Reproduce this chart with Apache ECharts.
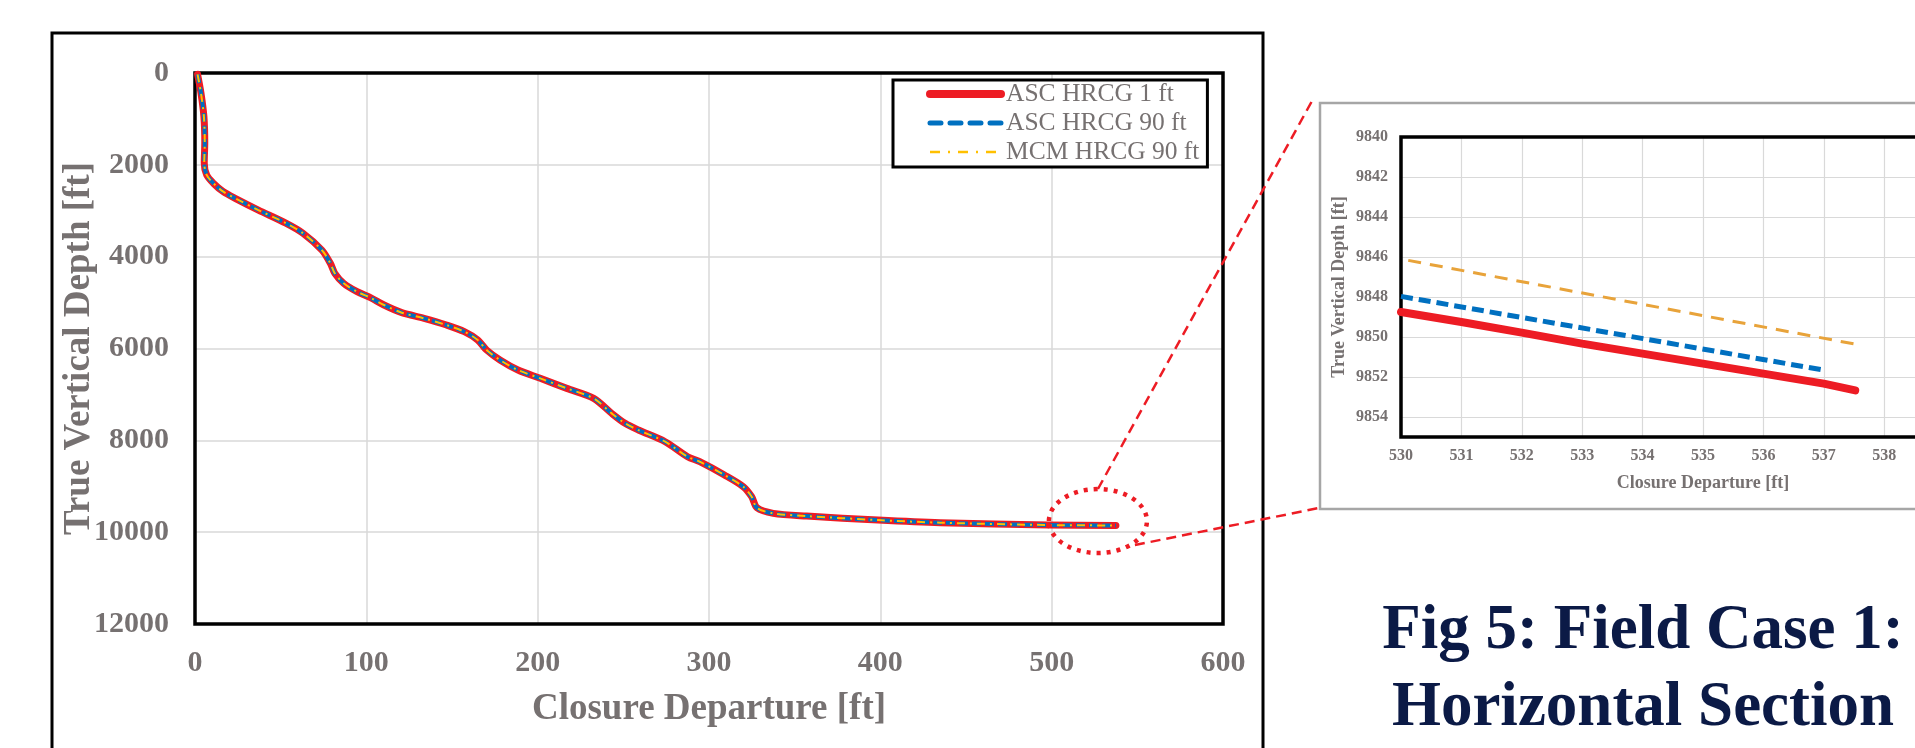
<!DOCTYPE html>
<html>
<head>
<meta charset="utf-8">
<script src="https://cdn.jsdelivr.net/npm/echarts/dist/echarts.min.js"></script>
<style>
html,body{margin:0;padding:0;background:#ffffff;}
#chart{width:1915px;height:748px;}
</style>
</head>
<body>
<div id="chart"></div>
<script>
// ---------------- DATA ----------------
const seriesNames = ['ASC HRCG 1 ft', 'ASC HRCG 90 ft', 'MCM HRCG 90 ft'];

// Main well trajectory (closure departure ft, TVD ft)
const trajDeparture = [1.5, 3.5, 5.2, 5.7, 5.4, 6.8, 10.7, 16.5, 24, 37, 53, 63, 74, 79, 81.6, 86.8, 94.6, 102.4, 110.3, 120.7, 133.7, 146.8, 157.2, 165, 170.2, 178, 188.5, 201.5, 217, 232.7, 243.2, 251, 258.8, 274.4, 287.5, 294.6, 309, 320, 324.9, 328, 337.5, 357, 398.6, 435, 498, 537.5];
const trajTVD = [30, 440, 950, 1520, 1960, 2220, 2400, 2585, 2740, 2985, 3270, 3490, 3855, 4145, 4363, 4581, 4763, 4894, 5053, 5220, 5343, 5489, 5634, 5815, 6033, 6251, 6469, 6650, 6868, 7086, 7413, 7630, 7776, 8030, 8357, 8466, 8755, 9010, 9228, 9470, 9590, 9650, 9736, 9794, 9845, 9853];

// Zoomed section (inset)
const insetRedDep = [530, 531, 532, 533, 534, 535, 536, 537, 537.52];
const insetRedTVD = [9848.75, 9849.25, 9849.78, 9850.33, 9850.83, 9851.33, 9851.83, 9852.33, 9852.67];
const insetBlueDep = [530, 536.95];
const insetBlueTVD = [9847.97, 9851.63];
const insetGoldDep = [530.12, 537.63];
const insetGoldTVD = [9846.17, 9850.42];

// Axis ticks
const mainXTicks = [0, 100, 200, 300, 400, 500, 600];
const mainYTicks = [0, 2000, 4000, 6000, 8000, 10000, 12000];
const insetXTicks = [530, 531, 532, 533, 534, 535, 536, 537, 538, 539, 540];
const insetYTicks = [9840, 9842, 9844, 9846, 9848, 9850, 9852, 9854];
const insetYMax = 9855;

// zoom marker position (data coords of main chart)
const zoomMarker = [527, 9757];

const captionText = 'Fig 5: Field Case 1:\nHorizontal Section';

// ---------------- HELPERS ----------------
const pairs = (xs, ys) => xs.map((x, i) => [x, ys[i]]);
const FONT = '"Liberation Serif", "Times New Roman", serif';
const GRAY = '#767171';
const GRID_COLOR = '#d9d9d9';
const RED = '#ED1C24', BLUE = '#0070C0', GOLD = '#FFC000', ORANGE = '#E8A33A';
const plain = v => String(v);
const noSymbol = {color: 'rgba(0,0,0,0)', borderWidth: 0, opacity: 0};

const chart = echarts.init(document.getElementById('chart'), null, {renderer: 'canvas'});

const option = {
  animation: false,
  backgroundColor: '#ffffff',
  title: {
    text: captionText,
    left: 1638,
    top: 588,
    textAlign: 'center',
    textStyle: {fontFamily: FONT, fontWeight: 'bold', fontSize: 63, color: '#0b1a46', lineHeight: 77}
  },
  legend: {
    orient: 'vertical',
    left: 893,
    top: 80,
    padding: [1, 8, 2, 33],
    itemGap: 3,
    itemWidth: 71,
    itemHeight: 14,
    backgroundColor: '#ffffff',
    borderColor: '#000000',
    borderWidth: 3,
    borderRadius: 0,
    textStyle: {fontFamily: FONT, fontSize: 25.5, color: GRAY},
    data: [
      {name: seriesNames[0], itemStyle: noSymbol, lineStyle: {width: 8, cap: 'round', color: RED}},
      {name: seriesNames[1], itemStyle: noSymbol, lineStyle: {width: 5, cap: 'round', type: [11, 9], color: BLUE}},
      {name: seriesNames[2], itemStyle: noSymbol, lineStyle: {width: 2.5, type: [10, 8, 2, 8], color: GOLD}}
    ],
    z: 10
  },
  grid: [
    {left: 195, top: 73, width: 1028, height: 551, show: false, containLabel: false, outerBoundsMode: 'none'},
    {left: 1401, top: 137, width: 604, height: 300, show: false, containLabel: false, outerBoundsMode: 'none'}
  ],
  xAxis: [
    {
      type: 'value', gridIndex: 0,
      min: mainXTicks[0], max: mainXTicks[mainXTicks.length - 1], interval: mainXTicks[1] - mainXTicks[0],
      name: 'Closure Departure [ft]', nameLocation: 'middle', nameGap: 67, nameMoveOverlap: false,
      nameTextStyle: {fontFamily: FONT, fontWeight: 'bold', fontSize: 37, color: GRAY},
      axisLine: {show: false}, axisTick: {show: false},
      axisLabel: {margin: 24, fontFamily: FONT, fontWeight: 'bold', fontSize: 30, color: GRAY, formatter: plain},
      splitLine: {show: true, lineStyle: {color: GRID_COLOR, width: 1.5}}
    },
    {
      type: 'value', gridIndex: 1,
      min: insetXTicks[0], max: insetXTicks[insetXTicks.length - 1], interval: 1,
      name: 'Closure Departure [ft]', nameLocation: 'middle', nameGap: 37, nameMoveOverlap: false,
      nameTextStyle: {fontFamily: FONT, fontWeight: 'bold', fontSize: 18, color: GRAY},
      axisLine: {show: false}, axisTick: {show: false},
      axisLabel: {margin: 11, fontFamily: FONT, fontWeight: 'bold', fontSize: 16, color: GRAY, formatter: plain},
      splitLine: {show: true, lineStyle: {color: GRID_COLOR, width: 1.2}}
    }
  ],
  yAxis: [
    {
      type: 'value', gridIndex: 0, inverse: true,
      min: mainYTicks[0], max: mainYTicks[mainYTicks.length - 1], interval: mainYTicks[1] - mainYTicks[0],
      name: 'True Vertical Depth [ft]', nameLocation: 'middle', nameGap: 97, nameMoveOverlap: false,
      nameTextStyle: {fontFamily: FONT, fontWeight: 'bold', fontSize: 37, color: GRAY},
      axisLine: {show: false}, axisTick: {show: false},
      axisLabel: {margin: 26, fontFamily: FONT, fontWeight: 'bold', fontSize: 30, color: GRAY, formatter: plain},
      splitLine: {show: true, lineStyle: {color: GRID_COLOR, width: 1.5}}
    },
    {
      type: 'value', gridIndex: 1, inverse: true,
      min: insetYTicks[0], max: insetYMax, interval: 2,
      name: 'True Vertical Depth [ft]', nameLocation: 'middle', nameGap: 53, nameMoveOverlap: false,
      nameTextStyle: {fontFamily: FONT, fontWeight: 'bold', fontSize: 18, color: GRAY},
      axisLine: {show: false}, axisTick: {show: false},
      axisLabel: {margin: 13, fontFamily: FONT, fontWeight: 'bold', fontSize: 16, color: GRAY, formatter: plain, showMaxLabel: false},
      splitLine: {show: true, lineStyle: {color: GRID_COLOR, width: 1.2}}
    }
  ],
  series: [
    {
      name: seriesNames[0], type: 'line', xAxisIndex: 0, yAxisIndex: 0,
      data: pairs(trajDeparture, trajTVD), symbol: 'none', smooth: 0.3,
      lineStyle: {color: RED, width: 7, cap: 'round', join: 'round'}, itemStyle: {color: RED}, z: 3
    },
    {
      name: seriesNames[1], type: 'line', xAxisIndex: 0, yAxisIndex: 0,
      data: pairs(trajDeparture, trajTVD), symbol: 'none', smooth: 0.3,
      lineStyle: {color: BLUE, width: 4, type: [9, 4], join: 'round'}, itemStyle: {color: BLUE}, z: 4
    },
    {
      name: seriesNames[2], type: 'line', xAxisIndex: 0, yAxisIndex: 0,
      data: pairs(trajDeparture, trajTVD), symbol: 'none', smooth: 0.3,
      lineStyle: {color: GOLD, width: 2, type: [8, 5, 2, 5]}, itemStyle: {color: GOLD}, z: 5
    },
    {
      name: seriesNames[0], type: 'line', xAxisIndex: 1, yAxisIndex: 1,
      data: pairs(insetRedDep, insetRedTVD), symbol: 'none',
      lineStyle: {color: RED, width: 8, cap: 'round'}, itemStyle: {color: RED}, z: 3
    },
    {
      name: seriesNames[1], type: 'line', xAxisIndex: 1, yAxisIndex: 1,
      data: pairs(insetBlueDep, insetBlueTVD), symbol: 'none',
      lineStyle: {color: BLUE, width: 5, type: [12, 6]}, itemStyle: {color: BLUE}, z: 4
    },
    {
      name: seriesNames[2], type: 'line', xAxisIndex: 1, yAxisIndex: 1,
      data: pairs(insetGoldDep, insetGoldTVD), symbol: 'none',
      lineStyle: {color: ORANGE, width: 3, type: [13, 9]}, itemStyle: {color: ORANGE}, z: 5
    }
  ]
};

chart.setOption(option);

// Decorations: plot frames, outer frames, zoom marker and connector lines
const m0 = chart.convertToPixel({gridIndex: 0}, [mainXTicks[0], mainYTicks[0]]);
const m1 = chart.convertToPixel({gridIndex: 0}, [mainXTicks[mainXTicks.length - 1], mainYTicks[mainYTicks.length - 1]]);
const i0 = chart.convertToPixel({gridIndex: 1}, [insetXTicks[0], insetYTicks[0]]);
const i1 = chart.convertToPixel({gridIndex: 1}, [insetXTicks[insetXTicks.length - 1], insetYMax]);
const c = chart.convertToPixel({gridIndex: 0}, zoomMarker);
const rx = 49, ry = 32;
const insetBox = {x: 1320, y: 103, w: 700, h: 406};
chart.setOption({
  graphic: [
    {type: 'rect', z: 1, silent: true, shape: {x: 52, y: 33, width: 1211, height: 800}, style: {fill: 'none', stroke: '#000', lineWidth: 3}},
    {type: 'rect', z: 1, silent: true, shape: {x: insetBox.x, y: insetBox.y, width: insetBox.w, height: insetBox.h}, style: {fill: 'none', stroke: '#a6a6a6', lineWidth: 2.5}},
    {type: 'rect', z: 2, silent: true, shape: {x: m0[0], y: m0[1], width: m1[0] - m0[0], height: m1[1] - m0[1]}, style: {fill: 'none', stroke: '#000', lineWidth: 3.5}},
    {type: 'rect', z: 2, silent: true, shape: {x: i0[0], y: i0[1], width: i1[0] - i0[0], height: i1[1] - i0[1]}, style: {fill: 'none', stroke: '#000', lineWidth: 3.5}},
    {type: 'ellipse', z: 100, silent: true, shape: {cx: c[0], cy: c[1], rx: rx, ry: ry}, style: {fill: 'none', stroke: RED, lineWidth: 4.5, lineDash: [4, 6]}},
    {type: 'line', z: 100, silent: true, shape: {x1: c[0], y1: c[1] - ry, x2: insetBox.x - 8, y2: insetBox.y - 2}, style: {stroke: RED, lineWidth: 2.5, lineDash: [10, 6]}},
    {type: 'line', z: 100, silent: true, shape: {x1: c[0] + 37, y1: c[1] + 24, x2: insetBox.x - 1, y2: insetBox.y + insetBox.h - 1}, style: {stroke: RED, lineWidth: 2.5, lineDash: [10, 6]}}
  ]
});
</script>
</body>
</html>
